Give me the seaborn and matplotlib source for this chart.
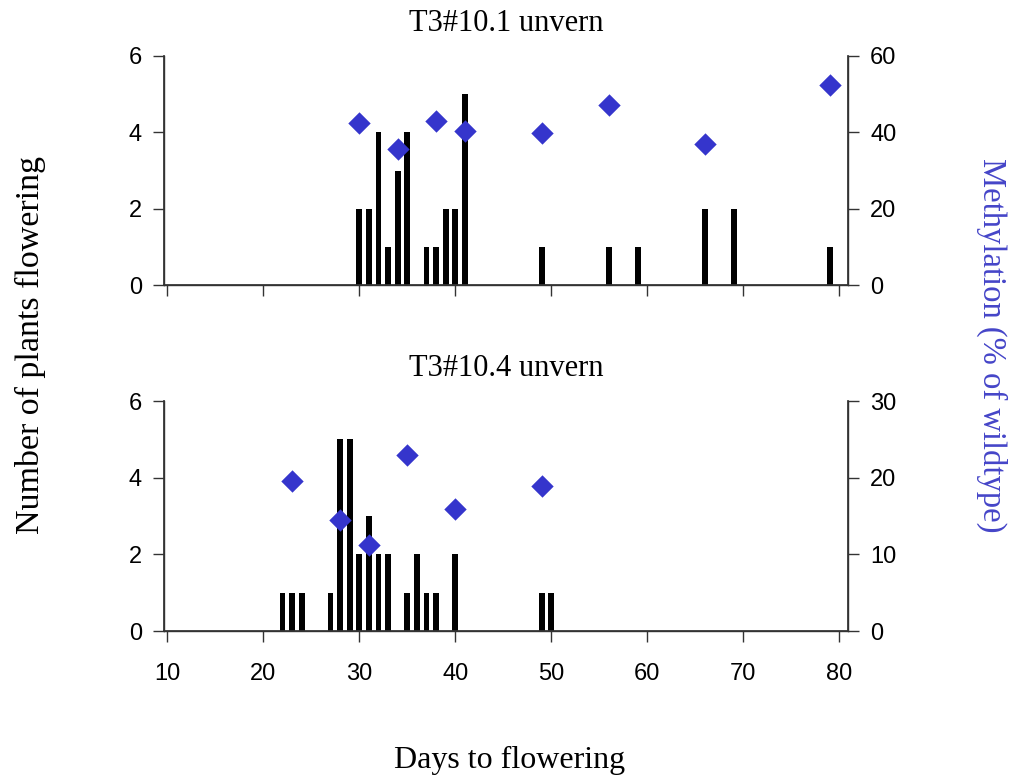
import numpy as np
import pandas as pd
import matplotlib
matplotlib.use('Agg')
import matplotlib.pyplot as plt
import seaborn as sns

# top panel: T3#10.1 unvern
top_days = [30, 31, 32, 33, 34, 35, 37, 38, 39, 40, 41, 49, 56, 59, 66, 69, 79]
top_counts = [2, 2, 4, 1, 3, 4, 1, 1, 2, 2, 5, 1, 1, 1, 2, 2, 1]
top_meth_days = [30, 34, 38, 41, 49, 56, 66, 79]
top_meth = [42.4, 35.6, 43.0, 40.3, 39.7, 47.1, 36.9, 52.4]

# bottom panel: T3#10.4 unvern
bot_days = [22, 23, 24, 27, 28, 29, 30, 31, 32, 33, 35, 36, 37, 38, 40, 49, 50]
bot_counts = [1, 1, 1, 1, 5, 5, 2, 3, 2, 2, 1, 2, 1, 1, 2, 1, 1]
bot_meth_days = [23, 28, 31, 35, 40, 49]
bot_meth = [19.6, 14.5, 11.2, 22.9, 15.9, 18.9]

titles = ['T3#10.1 unvern', 'T3#10.4 unvern']
right_max = [60, 30]
right_ticks = [[0, 20, 40, 60], [0, 10, 20, 30]]
x_ticks = [10, 20, 30, 40, 50, 60, 70, 80]

sns.set_theme(style='white')
plt.rcParams['font.family'] = ['Liberation Sans', 'DejaVu Sans']
plt.rcParams['text.color'] = 'black'
plt.rcParams['xtick.color'] = 'black'
plt.rcParams['ytick.color'] = 'black'
serif = ['Liberation Serif', 'DejaVu Serif']
blue = '#3535CC'

fig = plt.figure(figsize=(10.12, 7.79), dpi=100)
W, H = 1012, 779
panels = [
    (top_days, top_counts, top_meth_days, top_meth, 56, 285),
    (bot_days, bot_counts, bot_meth_days, bot_meth, 401, 631),
]

for i, (days, counts, mdays, meth, ytop, ybot) in enumerate(panels):
    ax = fig.add_axes([164 / W, 1 - ybot / H, (848 - 164) / W, (ybot - ytop) / H])
    df = pd.DataFrame({'day': days, 'n': counts})
    sns.barplot(data=df, x='day', y='n', native_scale=True, width=0.6,
                color='black', saturation=1, linewidth=0, ax=ax)
    ax.set_xlim(9.65, 80.9)
    ax.set_ylim(0, 6)
    ax.set_yticks([0, 2, 4, 6])
    ax.set_xticks(x_ticks)
    ax.set_xlabel('')
    ax.set_ylabel('')
    ax.tick_params(axis='both', direction='out', length=8, width=1, color='#333333',
                   labelsize=17, left=True, bottom=True, pad=8)
    ax.tick_params(axis='x', pad=15)
    if i == 0:
        ax.set_xticklabels([])
    ax.spines['top'].set_visible(False)
    for s in ['left', 'right', 'bottom']:
        ax.spines[s].set_color('#333333')
        ax.spines[s].set_linewidth(1)
    ax.set_title(titles[i], family=serif, fontsize=22, pad=18)

    ax2 = ax.twinx()
    mdf = pd.DataFrame({'day': mdays, 'm': meth})
    sns.scatterplot(data=mdf, x='day', y='m', marker='D', s=130, color=blue,
                    edgecolor=blue, linewidth=0, ax=ax2, zorder=5)
    ax2.set_ylim(0, right_max[i])
    ax2.set_yticks(right_ticks[i])
    ax2.set_ylabel('')
    ax2.tick_params(axis='y', direction='out', length=8, width=1, color='#333333',
                    labelsize=17, right=True, pad=8)
    ax2.spines['top'].set_visible(False)
    for s in ['left', 'right', 'bottom']:
        ax2.spines[s].set_color('#333333')

fig.text(30 / W, 1 - 345 / H, 'Number of plants flowering', family=serif, fontsize=24.5,
         rotation=90, ha='center', va='center')
fig.text(992 / W, 1 - 345 / H, 'Methylation (% of wildtype)', family=serif, fontsize=23.5,
         rotation=-90, ha='center', va='center', color='#4545C8')
fig.text(510 / W, 1 - 760 / H, 'Days to flowering', family=serif, fontsize=23,
         ha='center', va='center')

fig.savefig('out.png', dpi=100)
